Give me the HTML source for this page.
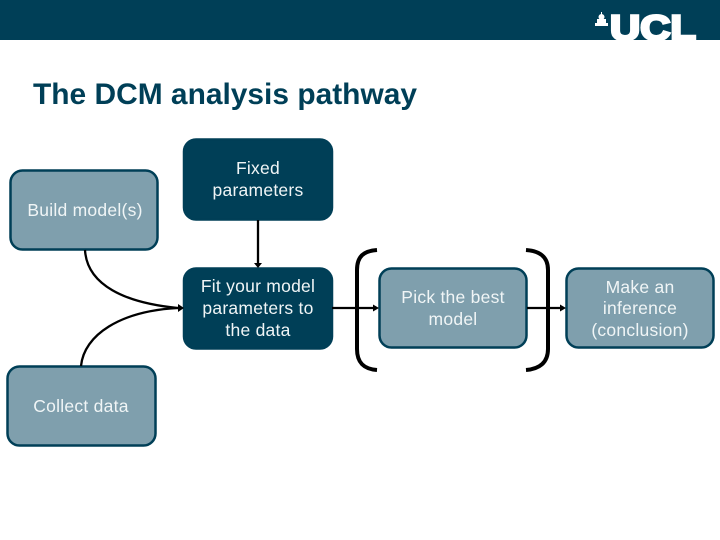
<!DOCTYPE html>
<html><head><meta charset="utf-8"><style>
html,body{margin:0;padding:0;background:#fff}
svg{display:block}
text{font-family:"Liberation Sans",Arial,sans-serif}
.l{font-size:17.500px;letter-spacing:.25px;fill:#f0f5f6;text-anchor:middle}
</style></head><body>
<svg width="720" height="540" viewBox="0 0 720 540" xmlns="http://www.w3.org/2000/svg">
<rect width="720" height="540" fill="#fff"/>
<rect width="720" height="40" fill="#003f57"/>
<g fill="#fff">
<rect x="595" y="23" width="13" height="3"/>
<rect x="597" y="19" width="9" height="4"/>
<circle cx="601.500" cy="17" r="3"/>
<rect x="601" y="12" width="1" height="3"/>
</g>
<text x="610" y="40" font-size="35" font-weight="700" fill="#fff" stroke="#fff" stroke-width="2.600" textLength="86" lengthAdjust="spacingAndGlyphs">UCL</text>
<rect x="600" y="40" width="120" height="20" fill="#fff"/>
<text x="33" y="104" font-size="30" font-weight="700" fill="#003f57" textLength="384" lengthAdjust="spacingAndGlyphs">The DCM analysis pathway</text>
<g stroke="#003f57" stroke-width="2.500">
<rect x="10.500" y="170.500" width="147" height="79" rx="12" fill="#7f9fad"/>
<rect x="7.500" y="366.500" width="148" height="79" rx="12" fill="#7f9fad"/>
<rect x="184" y="139.500" width="148" height="80" rx="12" fill="#003f57"/>
<rect x="184" y="268.500" width="148" height="80" rx="12" fill="#003f57"/>
<rect x="379.500" y="268.500" width="147" height="79" rx="12" fill="#7f9fad"/>
<rect x="566.500" y="268.500" width="147" height="79" rx="12" fill="#7f9fad"/>
</g>
<g fill="none" stroke="#000" stroke-width="2.300">
<path d="M258 220V264"/>
<path d="M85 250C87 285 125 303 178 308"/>
<path d="M81 366C84 335 120 311 178 308"/>
<path d="M332 308H375"/>
<path d="M527 308H562"/>
</g>
<g fill="#000">
<path d="M254 263H262L258 268Z"/>
<path d="M178 304L184 308L178 312Z"/>
<path d="M373 304.500L379 308L373 311.500Z"/>
<path d="M560 304.500L566 308L560 311.500Z"/>
</g>
<g fill="none" stroke="#000" stroke-width="4">
<path d="M377 250C364 251 357 256 357 270V349C357 363 364 369 377 370"/>
<path d="M526 250C539 251 548 256 548 270V349C548 363 539 369 526 370"/>
</g>
<text class="l" x="85" y="216">Build model(s)</text>
<text class="l" x="81" y="412">Collect data</text>
<text class="l" x="258" y="174">Fixed</text>
<text class="l" x="258" y="196">parameters</text>
<text class="l" x="258" y="292">Fit your model</text>
<text class="l" x="258" y="314">parameters to</text>
<text class="l" x="258" y="336">the data</text>
<text class="l" x="453" y="303">Pick the best</text>
<text class="l" x="453" y="325">model</text>
<text class="l" x="640" y="293">Make an</text>
<text class="l" x="640" y="314">inference</text>
<text class="l" x="640" y="336">(conclusion)</text>
</svg>
</body></html>
